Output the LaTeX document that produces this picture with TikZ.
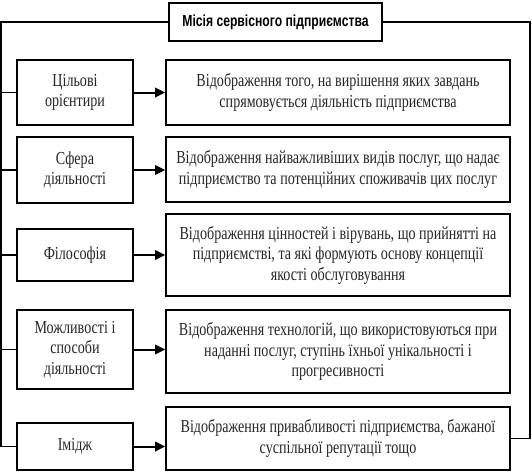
\documentclass[tikz,border=0pt]{standalone}
\usepackage{fontspec}
\setmainfont{Liberation Serif}[FakeStretch=0.77]
\newfontfamily\titlefont{Liberation Sans}[FakeStretch=0.76]
\usetikzlibrary{arrows.meta}
\begin{document}
\begin{tikzpicture}[x=1pt,y=-1pt,
  box/.style={draw=black, line width=1.7pt, align=center, inner sep=0pt, font=\fontsize{18.3}{20.5}\selectfont, text=black!85},
  lbox/.style={box, minimum width=116pt},
  rbox/.style={box, minimum width=344pt},
  conn/.style={line width=1.7pt, black},
  arr/.style={conn, line width=2pt, -{Triangle[length=10pt,width=9.5pt]}}]
\useasboundingbox (0,0) rectangle (532,474);
\node[draw=black, line width=1.7pt, minimum width=213pt, minimum height=38pt, inner sep=0pt,
  font=\titlefont\bfseries\fontsize{16}{18}\selectfont] (title) at (275.5,22) {Місія сервісного підприємства};
\node[lbox, minimum height=65pt] (l1) at (75,92.5) {Цільові\\орієнтири};
\node[rbox, minimum height=65pt] (r1) at (338,92.5) {Відображення того, на вирішення яких завдань\\спрямовується діяльність підприємства};
\node[lbox, minimum height=66pt] (l2) at (75,170) {Сфера\\діяльності};
\node[rbox, minimum height=65pt] (r2) at (338,169.5) {Відображення найважливіших видів послуг, що надає\\підприємство та потенційних споживачів цих послуг};
\node[lbox, minimum height=52pt] (l3) at (75,255) {Філософія};
\node[rbox, minimum height=82pt] (r3) at (338,255) {Відображення цінностей і вірувань, що прийнятті на\\підприємстві, та які формують основу концепції\\якості обслуговування};
\node[lbox, minimum height=79pt] (l4) at (75,349.5) {Можливості і\\способи\\діяльності};
\node[rbox, minimum height=83pt] (r4) at (338,351.5) {Відображення технологій, що використовуються при\\наданні послуг, ступінь їхньої унікальності і\\прогресивності};
\node[lbox, minimum height=47pt] (l5) at (75,446.5) {Імідж};
\node[rbox, minimum height=63pt] (r5) at (338,438.5) {Відображення привабливості підприємства, бажаної\\суспільної репутації тощо};
\draw[conn] (title.west) -- ++(-167,0) |- (l5.west);
\foreach \i in {1,2,3,4}{\draw[conn] (l\i.west) -- ++(-16,0);}
\draw[conn] (title.east) -- ++(147,0) |- (r5.east);
\foreach \i in {1,2,3,4,5}{\draw[arr] (l\i.east) -- (l\i.east -| r\i.west);}
\end{tikzpicture}
\end{document}
